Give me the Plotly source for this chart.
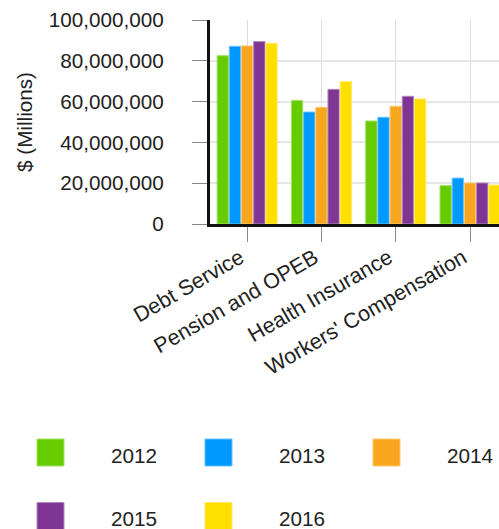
import plotly.graph_objects as go

# Spending categories and yearly totals
categories = ["Debt Service", "Pension and OPEB", "Health Insurance", "Workers' Compensation"]
years = ["2012", "2013", "2014", "2015", "2016"]
values_2012 = [82500000, 60600000, 50500000, 18800000]
values_2013 = [87100000, 54900000, 52300000, 22500000]
values_2014 = [87300000, 57200000, 57700000, 20100000]
values_2015 = [89400000, 66000000, 62600000, 20100000]
values_2016 = [88600000, 69800000, 61300000, 19100000]
series = [values_2012, values_2013, values_2014, values_2015, values_2016]

colors = ["#66cc00", "#0099ff", "#f8a61d", "#7f3594", "#ffdf00"]
edge_colors = ["#a3e066", "#66c2ff", "#fbc977", "#b286bf", "#ffec66"]

W, H = 499, 529
M_L, M_T, M_B, M_R = 210, 20, 305, 0
FONT = "Liberation Sans, Arial, sans-serif"

fig = go.Figure()
for yr, vals, c, ec in zip(years, series, colors, edge_colors):
    fig.add_trace(go.Bar(
        x=categories, y=vals, name=yr, showlegend=False,
        marker=dict(color=c, line=dict(color=ec, width=1)),
    ))

# Custom legend: large swatches with labels in a 3-column grid
plot_w = W - M_L - M_R
plot_h = H - M_T - M_B


def px_to_paper_x(px):
    return (px - M_L) / plot_w


def px_to_paper_y(py):
    return (H - M_B - py) / plot_h


shapes = []
annotations = []
for i, (yr, c, ec) in enumerate(zip(years, colors, edge_colors)):
    col, row = i % 3, i // 3
    sx = 37 + col * 168
    sy = 439 + row * 63.5
    shapes.append(dict(
        type="rect", xref="paper", yref="paper",
        x0=px_to_paper_x(sx), x1=px_to_paper_x(sx + 27),
        y0=px_to_paper_y(sy), y1=px_to_paper_y(sy + 27),
        fillcolor=c, line=dict(color=ec, width=1), layer="above",
    ))
    annotations.append(dict(
        text=yr, xref="paper", yref="paper",
        x=px_to_paper_x(sx + 72), y=px_to_paper_y(sy + 16),
        xanchor="left", yanchor="middle", showarrow=False,
        font=dict(family=FONT, size=20.7, color="#222222"),
    ))

fig.update_layout(
    width=W, height=H,
    margin=dict(l=M_L, r=M_R, t=M_T, b=M_B, autoexpand=False),
    paper_bgcolor="white", plot_bgcolor="white",
    barmode="group", bargap=0.18, bargroupgap=0.07,
    font=dict(family=FONT, size=20.7, color="#222222"),
    shapes=shapes, annotations=annotations,
    showlegend=False,
)
fig.update_xaxes(
    range=[-0.5, 3.39],
    showline=True, linecolor="#111111", linewidth=3,
    showgrid=True, gridcolor="#dddddd", gridwidth=1,
    ticks="outside", ticklen=15, tickcolor="#888888", tickwidth=1,
    tickangle=-30, tickfont=dict(size=21.5, color="#222222"),
    ticklabelshift=-7, ticklabelstandoff=-5,
    automargin=False,
)
fig.update_yaxes(
    range=[0, 100000000], dtick=20000000, tickformat=",d",
    showline=True, linecolor="#111111", linewidth=3,
    showgrid=True, gridcolor="#e6e6e6", gridwidth=1.5,
    ticks="outside", ticklen=15, tickcolor="#888888", tickwidth=1,
    ticklabelstandoff=24, zeroline=False,
    tickfont=dict(size=20.7, color="#222222"),
    title=dict(text="$ (Millions)", font=dict(size=20.7, color="#222222"), standoff=11),
    automargin=False,
)

fig.write_html("out.html")
